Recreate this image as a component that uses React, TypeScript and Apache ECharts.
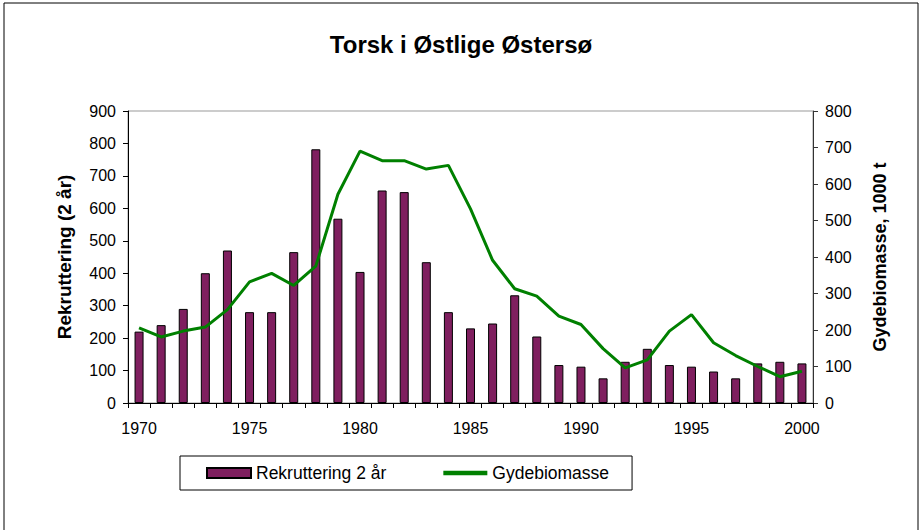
import React, { useEffect, useRef } from "react";
import * as echarts from "echarts";

const years = ["1970","1971","1972","1973","1974","1975","1976","1977","1978","1979","1980","1981","1982","1983","1984","1985","1986","1987","1988","1989","1990","1991","1992","1993","1994","1995","1996","1997","1998","1999","2000"];
const recruitment = [220, 240, 290, 400, 470, 280, 280, 465, 782, 568, 404, 655, 650, 434, 280, 230, 245, 332, 205, 117, 112, 76, 127, 167, 117, 112, 97, 76, 122, 127, 122];
const biomass = [206, 181, 197, 208, 256, 332, 355, 322, 375, 572, 690, 664, 664, 641, 651, 532, 391, 313, 293, 238, 215, 149, 96, 118, 197, 242, 165, 130, 100, 72, 87];

const FONT = "'Liberation Sans', Arial, sans-serif";

export default function App() {
  const ref = useRef<HTMLDivElement>(null);
  useEffect(() => {
    if (!ref.current) return;
    const chart = echarts.init(ref.current, null, { renderer: "svg" });
    chart.setOption({
      animation: false,
      backgroundColor: "#ffffff",
      textStyle: { fontFamily: FONT },
      title: {
        text: "Torsk i Østlige Østersø",
        left: "center",
        top: 27,
        textStyle: { fontFamily: FONT, fontSize: 24, fontWeight: "bold", color: "#000" },
      },
      graphic: [
        {
          type: "rect",
          shape: { x: 4, y: 3, width: 914, height: 540 },
          style: { fill: "none", stroke: "#000", lineWidth: 1 },
          silent: true,
        },
      ],
      legend: {
        left: 180,
        top: 456,
        padding: [8, 23, 8, 26],
        itemGap: 57,
        itemWidth: 44,
        itemHeight: 10,
        borderColor: "#000",
        borderWidth: 1,
        textStyle: { fontFamily: FONT, fontSize: 17.5, color: "#000" },
        data: [
          { name: "Rekruttering 2 år", icon: "rect" },
          { name: "Gydebiomasse", icon: "path://M0,0 L10,0 L10,1 L0,1 Z" },
        ],
      },
      grid: { left: 128, right: 109, top: 111, bottom: 127, show: true, borderColor: "#999", borderWidth: 1, backgroundColor: "transparent" },
      xAxis: {
        type: "category",
        data: years,
        boundaryGap: true,
        axisLine: { lineStyle: { color: "#000", width: 1 } },
        axisTick: { show: true, interval: 0, length: 5, lineStyle: { color: "#000" } },
        axisLabel: { interval: 4, color: "#000", fontSize: 16, fontFamily: FONT, margin: 17 },
      },
      yAxis: [
        {
          type: "value",
          min: 0,
          max: 900,
          interval: 100,
          name: "Rekruttering (2 år)",
          nameLocation: "middle",
          nameGap: 54,
          nameRotate: 90,
          nameTextStyle: { fontFamily: FONT, fontSize: 19, fontWeight: "bold", color: "#000" },
          axisLine: { show: true, lineStyle: { color: "#000" } },
          axisTick: { show: true, length: 5, lineStyle: { color: "#000" } },
          axisLabel: { color: "#000", fontSize: 16, fontFamily: FONT, margin: 12 },
          splitLine: { show: false },
        },
        {
          type: "value",
          min: 0,
          max: 800,
          interval: 100,
          name: "Gydebiomasse, 1000 t",
          nameLocation: "middle",
          nameGap: 58,
          nameRotate: 90,
          nameTextStyle: { fontFamily: FONT, fontSize: 18, fontWeight: "bold", color: "#000" },
          axisLine: { show: true, lineStyle: { color: "#333" } },
          axisTick: { show: true, length: 5, lineStyle: { color: "#333" } },
          axisLabel: { color: "#000", fontSize: 16, fontFamily: FONT, margin: 12 },
          splitLine: { show: false },
        },
      ],
      series: [
        {
          name: "Rekruttering 2 år",
          type: "bar",
          data: recruitment,
          yAxisIndex: 0,
          barWidth: 9,
          itemStyle: { color: "#7f1f5f", borderColor: "#000", borderWidth: 1 },
        },
        {
          name: "Gydebiomasse",
          type: "line",
          data: biomass,
          yAxisIndex: 1,
          symbol: "none",
          lineStyle: { color: "#008000", width: 3 },
          itemStyle: { color: "#008000" },
        },
      ],
    });
    return () => chart.dispose();
  }, []);
  return <div ref={ref} style={{ position: "fixed", left: 0, top: 0, width: 922, height: 530 }} />;
}
